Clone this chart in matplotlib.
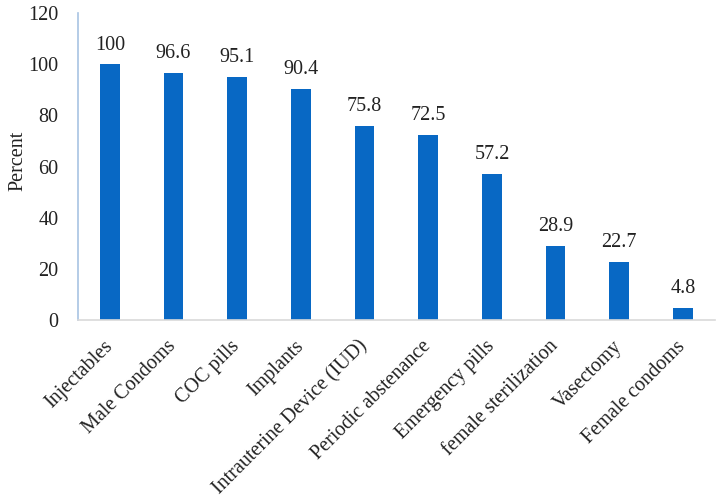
import matplotlib
matplotlib.use("Agg")
import matplotlib.pyplot as plt

categories = ["Injectables", "Male Condoms", "COC pills", "Implants",
              "Intrauterine Device (IUD)", "Periodic abstenance", "Emergency pills",
              "female sterilization", "Vasectomy", "Female condoms"]
values = [100, 96.6, 95.1, 90.4, 75.8, 72.5, 57.2, 28.9, 22.7, 4.8]
value_labels = ["100", "96.6", "95.1", "90.4", "75.8", "72.5", "57.2", "28.9", "22.7", "4.8"]
yticks = [0, 20, 40, 60, 80, 100, 120]

plt.rcParams['font.family'] = ['Liberation Serif', 'DejaVu Serif']
FS = 14.5

fig = plt.figure(figsize=(7.18, 5.04), dpi=100)
ax = fig.add_axes([0.1086, 0.365, 0.887, 0.609])

x = list(range(len(categories)))
ax.bar(x, values, width=0.31, color="#0868c4", zorder=2)
for xi, v, lab in zip(x, values, value_labels):
    ax.annotate(lab, (xi, v), xytext=(0, 7), textcoords="offset points",
                ha="center", va="bottom", fontsize=FS, color="#222222")

ax.set_xlim(-0.5, len(categories) - 0.5)
ax.set_ylim(0, 120)
ax.set_yticks(yticks)
ax.set_yticklabels([str(t) for t in yticks], fontsize=FS, color="#222222")
ax.set_xticks(x)
ax.set_xticklabels(categories, rotation=45, ha="right", va="center",
                   rotation_mode="anchor", fontsize=FS, color="#222222")
ax.tick_params(axis="both", length=0)
ax.tick_params(axis="x", pad=17)
ax.tick_params(axis="y", pad=14)

for s in ["top", "right"]:
    ax.spines[s].set_visible(False)
ax.spines["left"].set_color("#a8c3e3")
ax.spines["left"].set_linewidth(1.2)
ax.spines["bottom"].set_color("#d9d9d9")
ax.spines["bottom"].set_linewidth(1.2)

ax.set_ylabel("Percent", fontsize=FS, color="#222222")
ax.yaxis.set_label_coords(-0.08, 0.52)

fig.savefig("out.png", dpi=100)
